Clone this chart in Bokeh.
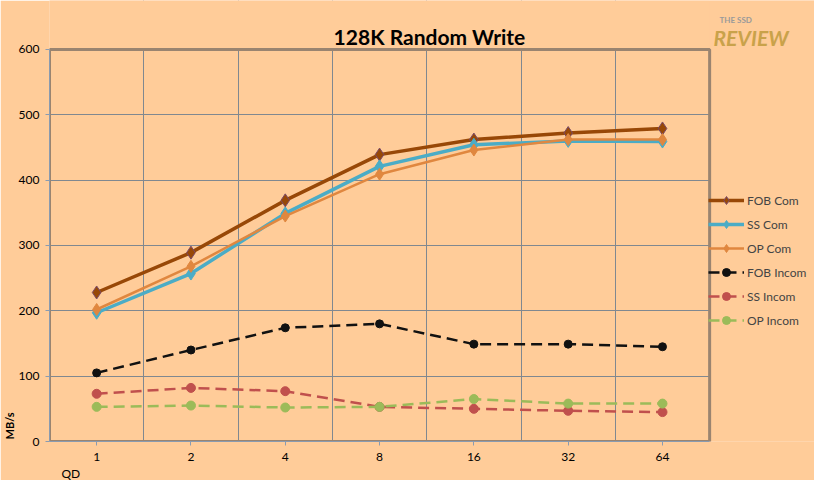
from bokeh.plotting import figure
from bokeh.models import Legend, LegendItem, Title, Label, FixedTicker, Range1d
from bokeh.embed import file_html
from bokeh.resources import INLINE

qd = ["1", "2", "4", "8", "16", "32", "64"]
fob_com = [228, 289, 369, 439, 462, 472, 479]
ss_com = [197, 257, 349, 421, 454, 460, 459]
op_com = [202, 268, 345, 409, 446, 462, 462]
fob_incom = [105, 140, 174, 180, 149, 149, 145]
ss_incom = [73, 82, 77, 53, 50, 47, 45]
op_incom = [53, 55, 52, 53, 65, 58, 58]
y_ticks = [0, 100, 200, 300, 400, 500, 600]

xs = list(range(len(qd)))
BG = "#FFCC99"
FONT = "Lato"

# layout (pixels): plot area 48..709 wide, 49..442 tall; the frame is extended to the
# right and top edges so that legend, title and logo can sit inside it unclipped
W, H = 814, 480
PL, PR, PT, PB = 48, 709, 49, 442
n = len(qd)
x0, x1 = -0.5, n - 0.5
ymax = y_ticks[-1]
x_end = x0 + (x1 - x0) * (W - PL) / (PR - PL)
y_end = ymax * PB / (PB - PT)

p = figure(width=W, height=H, output_backend="svg", toolbar_location=None,
           x_range=Range1d(x0, x_end), y_range=Range1d(0, y_end),
           min_border_left=PL, min_border_right=0, min_border_top=0, min_border_bottom=H - PB)
p.background_fill_color = BG
p.border_fill_color = BG
p.outline_line_color = None

# axes
p.xaxis.ticker = FixedTicker(ticks=xs)
p.xaxis.major_label_overrides = {i: q for i, q in enumerate(qd)}
p.xaxis.bounds = (x0, x1)
p.yaxis.ticker = FixedTicker(ticks=y_ticks)
p.yaxis.bounds = (0, ymax)
for ax in (p.xaxis[0], p.yaxis[0]):
    ax.axis_line_color = "#8a9bb0"
    ax.axis_line_width = 1
    ax.major_tick_line_color = "#8a9bb0"
    ax.major_tick_out = 4
    ax.major_tick_in = 0
    ax.minor_tick_line_color = None
    ax.major_label_text_font = FONT
    ax.major_label_text_font_size = "12px"
    ax.major_label_text_color = "#000000"
p.xaxis.major_label_standoff = 7
p.yaxis.major_label_standoff = 6

p.xgrid.ticker = FixedTicker(ticks=[i + 0.5 for i in xs[:-1]])
p.xgrid.grid_line_color = "#808890"
p.xgrid.grid_line_width = 1
p.ygrid.ticker = FixedTicker(ticks=y_ticks[1:-1])
p.ygrid.grid_line_color = "#808890"
p.ygrid.grid_line_width = 1

# hide grid lines outside the plot area (legend column and title strip)
p.quad(left=[x1], right=[x_end], bottom=[0], top=[y_end], fill_color=BG, line_color=None)
p.quad(left=[x0], right=[x1], bottom=[ymax], top=[y_end], fill_color=BG, line_color=None)
# plot-area border
p.quad(left=[x0], right=[x1], bottom=[0], top=[ymax], fill_alpha=0,
       line_color="#9a8470", line_width=3)

items = []
def add(name, ys, color, width, marker, dash="solid", msize=10, mline=None):
    r1 = p.line(xs, ys, line_color=color, line_width=width, line_dash=dash)
    r2 = p.scatter(xs, ys, marker=marker, size=msize, fill_color=color,
                   line_color=mline or color, line_width=1)
    items.append(LegendItem(label=name, renderers=[r1, r2]))

add("FOB Com", fob_com, "#984807", 3.5, "diamond", msize=13, mline="#7a4a6a")
add("SS Com", ss_com, "#4BACC6", 3.5, "diamond", msize=13)
add("OP Com", op_com, "#E0873F", 2.5, "diamond", msize=12)
add("FOB Incom", fob_incom, "#111111", 2.5, "circle", dash="11 6", msize=8)
add("SS Incom", ss_incom, "#C0504D", 2.5, "circle", dash="11 6", msize=9)
add("OP Incom", op_incom, "#9BBB59", 2.5, "circle", dash="11 6", msize=9)

legend = Legend(items=items, location=(659, 111), background_fill_alpha=0,
                border_line_color=None, padding=0, margin=0, spacing=4,
                glyph_width=36, glyph_height=20, label_standoff=3,
                label_text_font=FONT, label_text_font_size="12px", label_height=20)
p.add_layout(legend, "center")

def lab(x, y, text, size, style="normal", color="#000000", align="center"):
    p.add_layout(Label(x=x, y=y, x_units="screen", y_units="screen", text=text,
                       text_align=align, text_baseline="middle", text_font=FONT,
                       text_font_size=size, text_font_style=style, text_color=color))

lab(380, 405, "128K Random Write", "21px", "bold")
lab(670, 422, "THE SSD", "8px", "bold", "#9a9a9a", "left")
lab(664, 404, "REVIEW", "21px", "bold italic", "#c9a24a", "left")

# axis captions in side panels
p.add_layout(Title(text="MB/s", align="left", offset=2, standoff=0,
                   text_font=FONT, text_font_size="11px", text_font_style="bold",
                   text_color="#000000"), "left")
p.add_layout(Title(text="QD", align="left", offset=12, standoff=0,
                   text_font=FONT, text_font_size="12px", text_font_style="normal",
                   text_color="#000000"), "below")

open("out.html", "w").write(file_html(p, INLINE))
